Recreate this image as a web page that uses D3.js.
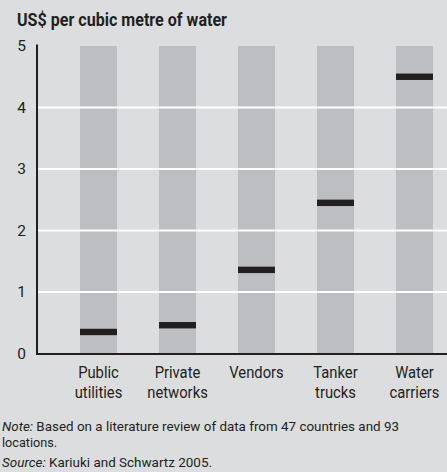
<!DOCTYPE html>
<html><head><meta charset="utf-8">
<script src="https://cdn.jsdelivr.net/npm/d3@7"></script>
<style>
html,body{margin:0;padding:0;background:#dcdddf;}
svg{display:block;}
text{font-family:Roboto,"Liberation Sans",sans-serif;fill:#231f20;}
</style></head><body>
<svg id="c" width="447" height="472"></svg>
<script>
const categories = [["Public","utilities"],["Private","networks"],["Vendors"],["Tanker","trucks"],["Water","carriers"]];
const costValues = [0.35, 0.46, 1.36, 2.45, 4.5];
const rangeMax = [5, 5, 5, 5, 5];
const yTicks = [0, 1, 2, 3, 4, 5];
const gridTicks = [1, 2, 3, 4];
const titleText = "US$ per cubic metre of water";

const svg = d3.select("#c");
const W = 447, H = 472;
svg.append("rect").attr("width", W).attr("height", H).attr("fill", "#dcdddf");

const keys = categories.map(c => c.join(" "));
const x = d3.scaleBand().domain(keys).range([59, 454]).paddingInner(0.532).paddingOuter(0.266);
const y = d3.scaleLinear().domain([0, 5]).range([353.5, 46]);

function condense(sel, k) {
  sel.each(function () {
    const w = this.getComputedTextLength();
    d3.select(this).attr("textLength", w * k).attr("lengthAdjust", "spacingAndGlyphs");
  });
}

// bars
svg.append("g").selectAll("rect").data(keys).join("rect")
  .attr("x", d => x(d)).attr("width", x.bandwidth())
  .attr("y", (d, i) => y(rangeMax[i])).attr("height", (d, i) => y(0) - y(rangeMax[i]))
  .attr("fill", "#bdbec1");

// gridlines
svg.append("g").selectAll("line").data(gridTicks).join("line")
  .attr("x1", 37).attr("x2", W).attr("y1", d => y(d)).attr("y2", d => y(d))
  .attr("stroke", "#ffffff").attr("stroke-width", 2);

// markers
svg.append("g").selectAll("rect").data(keys).join("rect")
  .attr("x", d => x(d)).attr("width", x.bandwidth())
  .attr("y", (d, i) => y(costValues[i]) - 3.2).attr("height", 6.4)
  .attr("fill", "#231f20");

// y axis
const yAxis = d3.axisLeft(y).tickValues(yTicks).tickSize(0).tickPadding(11).tickFormat(d3.format("d"));
const ga = svg.append("g").attr("transform", "translate(37,0)").call(yAxis);
ga.select(".domain").remove();
ga.selectAll("text").attr("font-size", 15.5).attr("font-family", "Roboto").style("fill", "#231f20");
svg.append("line").attr("x1", 37).attr("x2", 37).attr("y1", 44.5).attr("y2", 355)
  .attr("stroke", "#231f20").attr("stroke-width", 2);
svg.append("line").attr("x1", 36).attr("x2", W).attr("y1", 354).attr("y2", 354)
  .attr("stroke", "#231f20").attr("stroke-width", 2);

// category labels (one text per line)
const lines = [];
categories.forEach((c, i) => c.forEach((t, j) => lines.push({t, i, j})));
const lab = svg.append("g").selectAll("text").data(lines).join("text")
  .attr("text-anchor", "middle").attr("font-size", 17)
  .attr("x", d => x(keys[d.i]) + x.bandwidth() / 2)
  .attr("y", d => 377.5 + d.j * 20)
  .text(d => d.t);
condense(lab, 0.87);

// title
const title = svg.append("text").attr("x", 17).attr("y", 26).attr("font-size", 17.5).attr("font-weight", "bold").text(titleText);
title.attr("textLength", 210).attr("lengthAdjust", "spacingAndGlyphs");

// notes
const n1 = svg.append("text").attr("x", 2).attr("y", 431).attr("font-size", 13.5)
  .attr("textLength", 397).attr("lengthAdjust", "spacingAndGlyphs");
n1.append("tspan").attr("font-style", "italic").text("Note:");
n1.append("tspan").text(" Based on a literature review of data from 47 countries and 93");
svg.append("text").attr("x", 2).attr("y", 446.5).attr("font-size", 13.5)
  .attr("textLength", 55).attr("lengthAdjust", "spacingAndGlyphs").text("locations.");
const n2 = svg.append("text").attr("x", 2).attr("y", 467).attr("font-size", 13.5)
  .attr("textLength", 210).attr("lengthAdjust", "spacingAndGlyphs");
n2.append("tspan").attr("font-style", "italic").text("Source:");
n2.append("tspan").text(" Kariuki and Schwartz 2005.");
</script></body></html>
